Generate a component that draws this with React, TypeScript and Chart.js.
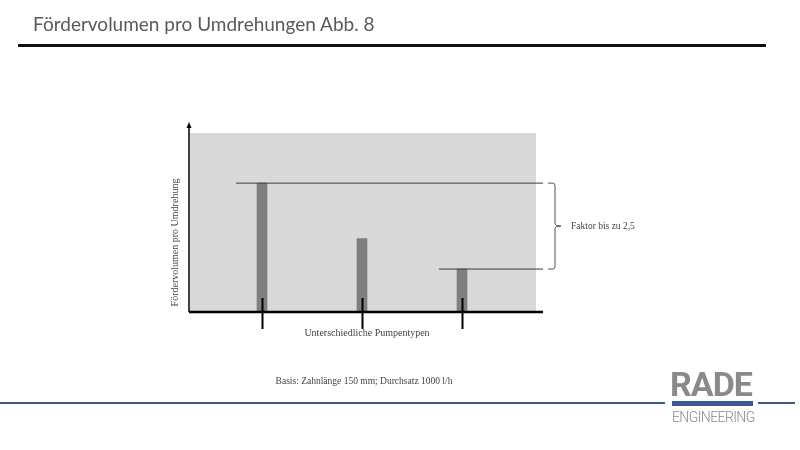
import React, { useEffect, useRef } from "react";
import { Chart, registerables } from "chart.js";

Chart.register(...registerables);

// pump types, positions on the (hidden) x scale and relative volume per revolution
const pumpPositions = [1, 2, 3];
const volumes = [7.2, 4.1, 2.4];
// reference lines: start position on x scale, level taken from the volumes
const refLineStarts = [0.74, 2.77];
const refLineLevels = [volumes[0], volumes[2]];
const X_MIN = 0.27;
const X_MAX = 3.81;
const Y_MAX = 10;

const TITLE = "Fördervolumen pro Umdrehungen Abb. 8";
const Y_LABEL = "Fördervolumen pro Umdrehung";
const X_LABEL = "Unterschiedliche Pumpentypen";
const FACTOR_LABEL = "Faktor bis zu 2,5";
const BASIS_LABEL = "Basis: Zahnlänge 150 mm; Durchsatz 1000 l/h";

const SERIF = "'Liberation Serif', 'DejaVu Serif', serif";

const schematicPlugin = {
  id: "schematic",
  beforeDraw(chart: any) {
    const { ctx, chartArea } = chart;
    ctx.save();
    ctx.fillStyle = "#d9d9d9";
    ctx.fillRect(chartArea.left + 1, chartArea.top, chartArea.width - 8, chartArea.height);
    ctx.restore();
  },
  afterDatasetsDraw(chart: any) {
    const { ctx, chartArea } = chart;
    const xs = chart.scales.x;
    const ys = chart.scales.y;
    const base = chartArea.bottom;
    ctx.save();

    // y axis with arrow
    ctx.strokeStyle = "#000";
    ctx.lineWidth = 1.5;
    ctx.beginPath();
    ctx.moveTo(chartArea.left, base);
    ctx.lineTo(chartArea.left, chartArea.top - 8);
    ctx.stroke();
    ctx.fillStyle = "#000";
    ctx.beginPath();
    ctx.moveTo(chartArea.left, chartArea.top - 11);
    ctx.lineTo(chartArea.left - 2.5, chartArea.top - 5);
    ctx.lineTo(chartArea.left + 2.5, chartArea.top - 5);
    ctx.closePath();
    ctx.fill();

    // x axis
    ctx.lineWidth = 2.5;
    ctx.beginPath();
    ctx.moveTo(chartArea.left, base);
    ctx.lineTo(chartArea.right, base);
    ctx.stroke();

    // tick marks at each pump type
    ctx.lineWidth = 2;
    pumpPositions.forEach((p) => {
      const x = Math.round(xs.getPixelForValue(p)) + 0.5;
      ctx.beginPath();
      ctx.moveTo(x, base - 14);
      ctx.lineTo(x, base + 17);
      ctx.stroke();
    });

    // brace between the two reference levels
    const yTop = ys.getPixelForValue(refLineLevels[0]);
    const yBot = ys.getPixelForValue(refLineLevels[1]);
    const yMid = (yTop + yBot) / 2;
    const bx = chartArea.right + 12;
    ctx.strokeStyle = "#555";
    ctx.lineWidth = 1;
    ctx.beginPath();
    ctx.moveTo(bx - 7, yTop);
    ctx.lineTo(bx - 2, yTop);
    ctx.quadraticCurveTo(bx, yTop, bx, yTop + 3);
    ctx.lineTo(bx, yMid - 2);
    ctx.quadraticCurveTo(bx, yMid, bx + 6, yMid);
    ctx.quadraticCurveTo(bx, yMid, bx, yMid + 2);
    ctx.lineTo(bx, yBot - 3);
    ctx.quadraticCurveTo(bx, yBot, bx - 2, yBot);
    ctx.lineTo(bx - 7, yBot);
    ctx.stroke();

    // texts
    ctx.fillStyle = "#444";
    ctx.font = `9.5px ${SERIF}`;
    ctx.textAlign = "left";
    ctx.textBaseline = "middle";
    ctx.fillText(FACTOR_LABEL, bx + 16, yMid);

    ctx.font = `10px ${SERIF}`;
    ctx.textAlign = "center";
    ctx.fillText(X_LABEL, xs.getPixelForValue(pumpPositions[1]) + 5, base + 21);

    ctx.font = `9.5px ${SERIF}`;
    ctx.fillText(BASIS_LABEL, xs.getPixelForValue(pumpPositions[1]) + 2, base + 69);

    ctx.save();
    ctx.translate(chartArea.left - 14, (chartArea.top + base) / 2 + 20);
    ctx.rotate(-Math.PI / 2);
    ctx.font = `10px ${SERIF}`;
    ctx.fillText(Y_LABEL, 0, 0);
    ctx.restore();

    ctx.restore();
  },
};

const App: React.FC = () => {
  const canvasRef = useRef<HTMLCanvasElement>(null);

  useEffect(() => {
    if (!canvasRef.current) return;
    const chart = new Chart(canvasRef.current, {
      type: "bar",
      data: {
        datasets: [
          {
            type: "bar",
            data: pumpPositions.map((p, i) => ({ x: p, y: volumes[i] })),
            backgroundColor: "#7f7f7f",
            barThickness: 10,
            order: 2,
          } as any,
          ...refLineStarts.map((start, i) => ({
            type: "line",
            data: [
              { x: start, y: refLineLevels[i] },
              { x: X_MAX, y: refLineLevels[i] },
            ],
            borderColor: "#3a3a3a",
            borderWidth: 1,
            pointRadius: 0,
            order: 1,
          })),
        ],
      },
      options: {
        animation: false,
        responsive: false,
        layout: { padding: { left: 189, right: 257, top: 133, bottom: 138 } },
        plugins: { legend: { display: false }, tooltip: { enabled: false } },
        scales: {
          x: { type: "linear", min: X_MIN, max: X_MAX, offset: false, display: false },
          y: { min: 0, max: Y_MAX, display: false },
        },
      },
      plugins: [schematicPlugin],
    });
    return () => chart.destroy();
  }, []);

  return (
    <div
      style={{
        position: "absolute",
        left: 0,
        top: 0,
        width: 800,
        height: 450,
        background: "#fff",
        overflow: "hidden",
      }}
    >
      <canvas ref={canvasRef} width={800} height={450} style={{ position: "absolute", left: 0, top: 0 }} />
      <div
        style={{
          position: "absolute",
          left: 33,
          top: 12,
          fontFamily: "Lato, 'Open Sans', sans-serif",
          fontSize: 19,
          color: "#5a5a5a",
          whiteSpace: "nowrap",
        }}
      >
        {TITLE}
      </div>
      <div style={{ position: "absolute", left: 18, top: 44, width: 748, height: 3, background: "#111" }} />
      <div style={{ position: "absolute", left: 0, top: 402, width: 665, height: 2, background: "#3d5a8e" }} />
      <div style={{ position: "absolute", left: 758, top: 402, width: 37, height: 2, background: "#3d5a8e" }} />
      <div
        style={{
          position: "absolute",
          left: 670,
          top: 364,
          fontFamily: "Roboto, sans-serif",
          fontWeight: 700,
          fontSize: 34,
          lineHeight: "40px",
          letterSpacing: -1,
          color: "#8a8a8a",
        }}
      >
        RADE
      </div>
      <div style={{ position: "absolute", left: 672, top: 401, width: 81, height: 5, background: "#3d5a8e" }} />
      <div
        style={{
          position: "absolute",
          left: 672,
          top: 409,
          fontFamily: "Roboto, sans-serif",
          fontWeight: 300,
          fontSize: 14,
          lineHeight: "16px",
          letterSpacing: -0.6,
          color: "#8a8a8a",
        }}
      >
        ENGINEERING
      </div>
    </div>
  );
};

export default App;
